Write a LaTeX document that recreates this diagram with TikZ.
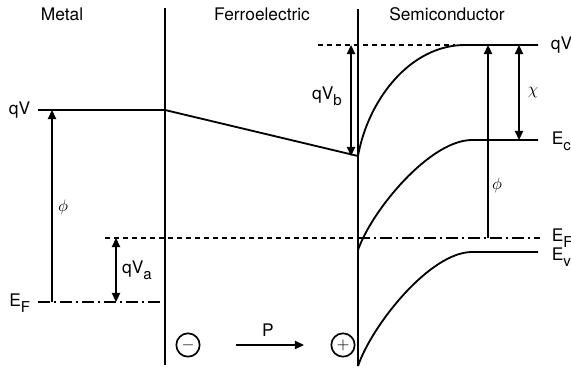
\documentclass[tikz,border=0pt]{standalone}
\usepackage{fontspec}
\setmainfont{TeX Gyre Heros}
\usetikzlibrary{arrows.meta}
\newcommand{\lowsub}[1]{\raisebox{-0.65ex}{\small #1}}

\begin{document}
\begin{tikzpicture}[x=0.6pt,y=-0.6pt,font=\fontsize{10.4}{12}\selectfont,
    wall/.style={line width=1.4pt},
    bandline/.style={line width=1.1pt},
    leveldash/.style={line width=0.7pt,dash pattern=on 3pt off 2.4pt},
    levelchain/.style={line width=0.7pt,dash pattern=on 7pt off 2.4pt on 1.4pt off 2.4pt},
    dimarr/.style={line width=0.9pt,{Triangle[length=5.5pt,width=5pt]}-{Triangle[length=5.5pt,width=5pt]}},
    onearr/.style={line width=0.9pt,-{Triangle[length=5.5pt,width=5pt]}},
    charge/.style={circle,draw,line width=1pt,minimum size=14pt,inner sep=0pt,font=\bfseries}]
  \useasboundingbox (0,0) rectangle (571,368);

  \draw[wall] (165,8) -- (165,365);
  \draw[wall] (358,9) -- (358,366);

  \node (metal) at (62,14) {Metal};
  \node (ferro) at (262,14) {Ferroelectric};
  \node (semi) at (447,14) {Semiconductor};

  \coordinate (mvac) at (38,110);
  \coordinate (mwall) at (165,110);
  \coordinate (fwall) at (358,156);
  \draw[bandline] (mvac) -- (mwall) -- (fwall);
  \node[anchor=east] (mqv) at (36,110) {qV};

  \coordinate (mef) at (38,302);
  \draw[levelchain] (mef) -- (165,302);
  \node[anchor=east] (mefl) at (36,303) {E\lowsub{F}};

  \coordinate (efa) at (105,238);
  \coordinate (efb) at (358,238);
  \coordinate (efc) at (540,238);
  \draw[leveldash] (efa) -- (efb);
  \draw[levelchain] (efb) -- (efc);
  \node[anchor=west] (sefl) at (546,238) {E\lowsub{F}};

  \coordinate (svac) at (318,45);
  \draw[leveldash] (svac) -- (455,45);
  \draw[bandline] (fwall) .. controls (368,100) and (410,45) .. (465,45) -- (538,45);
  \node[anchor=west] (sqv) at (545,45) {qV};

  \draw[bandline] (358,250) .. controls (372,210) and (430,140) .. (472,140) -- (538,140);
  \node[anchor=west] (ecl) at (546,141) {E\lowsub{c}};

  \draw[bandline] (358,366) .. controls (372,325) and (430,252) .. (472,252) -- (538,252);
  \node[anchor=west] (evl) at (546,257) {E\lowsub{v}};

  \draw[onearr] (52,302) -- (52,110);
  \node (mphi) at (63,207) {$\phi$};
  \draw[dimarr] (116,238) -- (116,302);
  \node (qva) at (137,270) {qV\lowsub{a}};

  \draw[dimarr] (351,45) -- (351,156);
  \node (qvb) at (327,96) {qV\lowsub{b}};
  \draw[onearr] (488,238) -- (488,45);
  \node (sphi) at (497,185) {$\phi$};
  \draw[dimarr] (519,45) -- (519,140);
  \node (chi) at (533,93) {$\chi$};

  \node[charge] (neg) at (188,345) {$-$};
  \node[charge] (pos) at (343,345) {$+$};
  \coordinate (pa) at (236,345);
  \coordinate (pb) at (304,345);
  \draw[onearr] (pa) -- (pb);
  \node (pol) at (268,330) {P};
\end{tikzpicture}
\end{document}
